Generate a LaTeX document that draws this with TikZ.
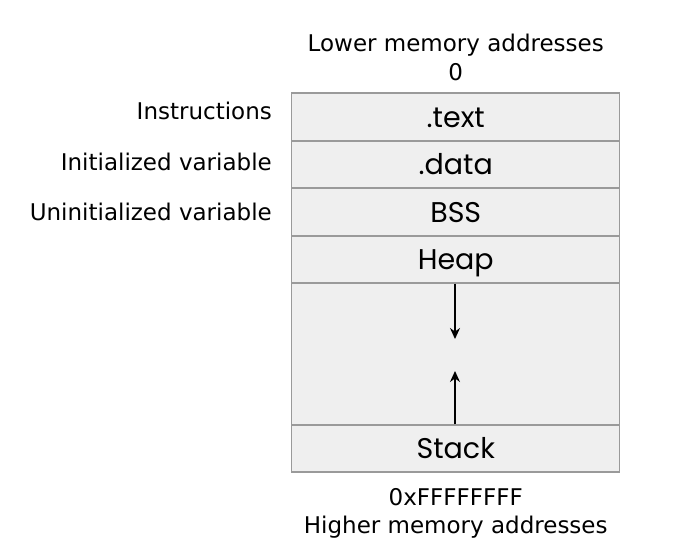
\documentclass[tikz,border=0pt]{standalone}
\usepackage{fontspec}
\setmainfont{DejaVu Sans}
\newfontfamily\segfont{Poppins}
\usetikzlibrary{arrows.meta}
\definecolor{segfill}{HTML}{EFEFEF}
\definecolor{segline}{HTML}{9A9A9A}

\begin{document}
\begin{tikzpicture}[x=1pt,y=-1pt,
	seg/.style={draw=segline,fill=segfill,line width=1.3pt,minimum width=328pt,
		inner sep=0pt,text height=20pt,text depth=0pt,font=\segfont\fontsize{28.5}{28.5}\selectfont},
	side/.style={anchor=east,inner sep=0pt,font=\fontsize{23}{23}\selectfont},
	addr/.style={inner sep=0pt,font=\fontsize{23}{23}\selectfont}]
	\useasboundingbox (0,0) rectangle (682,555);
	\node[seg,minimum height=48pt] (text) at (455.75,117) {.text};
	\node[seg,minimum height=47pt] (data) at (455.75,164.5) {.data};
	\node[seg,minimum height=48pt] (bss) at (455.75,212) {BSS};
	\node[seg,minimum height=47pt] (heap) at (455.75,259.5) {Heap};
	\node[seg,minimum height=142pt] (gap) at (455.75,354) {};
	\node[seg,minimum height=47pt] (stack) at (455.75,448.5) {Stack};
	\node[addr] (low) at (455.75,45) {Lower memory addresses};
	\node[addr] (zero) at (455.75,72) {0};
	\node[addr] (ffff) at (455.75,497) {0xFFFFFFFF};
	\node[addr] (high) at (455.75,527) {Higher memory addresses};
	\node[side] (instr) at (272,111) {Instructions};
	\node[side] (init) at (272,162) {Initialized variable};
	\node[side] (uninit) at (272,212) {Uninitialized variable};
	\coordinate (down) at (455,339);
	\coordinate (up) at (455,371);
	\draw [line width=1.6pt,-{Stealth[length=11pt,width=10pt]}] (heap.south -| down) to (down);
	\draw [line width=1.6pt,-{Stealth[length=11pt,width=10pt]}] (stack.north -| up) to (up);
\end{tikzpicture}
\end{document}
